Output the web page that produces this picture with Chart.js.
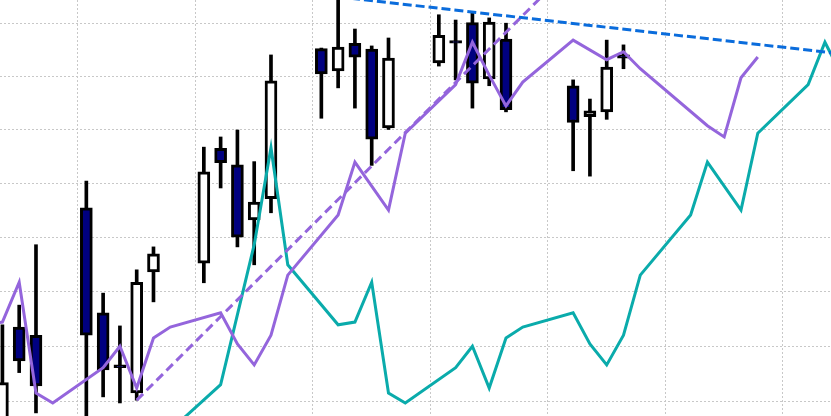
<!DOCTYPE html>
<html>
<head>
<meta charset="utf-8">
<script src="https://cdn.jsdelivr.net/npm/chart.js@4.4.1/dist/chart.umd.min.js"></script>
<style>
    html, body { margin: 0; padding: 0; background: #fff; }
    canvas { display: block; }
</style>
</head>
<body>
<canvas id="candles" width="831" height="416"></canvas>
<script>
// candles: day number (0 = first full candle), open / high / low / close
let days   = [-1, 0, 1, 4, 5, 6, 7, 8, 11, 12, 13, 14, 15, 18, 19, 20, 21, 22, 25, 26, 27, 28, 29, 33, 34, 35, 36]
let opens  = [149.48, 151.35, 151.20, 153.54, 151.61, 150.66, 150.15, 152.36, 152.52, 154.65, 154.34, 153.32, 153.71, 156.52, 156.10, 156.62, 156.51, 155.03, 156.25, 156.67, 157.01, 155.95, 156.70, 155.82, 155.24, 155.33, 156.40]
let highs  = [151.39, 151.75, 152.86, 154.04, 151.97, 151.37, 152.40, 152.82, 154.67, 154.86, 154.99, 154.40, 156.40, 156.53, 157.50, 156.89, 156.57, 156.72, 157.16, 157.06, 157.20, 157.10, 157.00, 155.93, 155.57, 156.68, 156.59]
let lows   = [149.30, 150.52, 149.79, 149.60, 150.08, 149.97, 150.02, 151.81, 152.16, 153.91, 152.82, 152.49, 153.45, 155.21, 155.78, 155.40, 154.33, 155.00, 156.19, 155.93, 155.40, 155.82, 155.33, 154.23, 154.13, 155.19, 156.14]
let closes = [150.34, 150.73, 150.28, 151.20, 150.57, 150.61, 152.17, 152.69, 154.21, 154.38, 153.00, 153.65, 155.91, 156.04, 156.55, 156.36, 154.82, 156.34, 156.77, 156.62, 155.87, 157.02, 155.37, 155.13, 155.35, 156.17, 156.34]

// purple line
let purpleDays   = [-12, -11, -9, -7, -6, -5, -2, -1, 0, 1, 2, 5, 6, 7, 8, 9, 12, 13, 14, 15, 16, 19, 20, 22, 23, 26, 27, 28, 29, 30, 33, 35, 36, 37, 41, 42, 43, 44]
let purpleValues = [149.48, 149.75, 150.30, 152.86, 154.66, 152.49, 151.39, 151.44, 152.17, 150.15, 149.97, 150.61, 151.00, 150.24, 151.15, 151.35, 151.61, 151.04, 150.66, 151.20, 152.30, 153.41, 154.39, 153.50, 154.93, 155.84, 156.64, 156.02, 155.44, 155.89, 156.68, 156.31, 156.46, 156.14, 155.07, 154.86, 155.97, 156.36]

// teal line
let tealDays   = [9, 10, 12, 14, 15, 16, 19, 20, 21, 22, 23, 26, 27, 28, 29, 30, 33, 34, 35, 36, 37, 40, 41, 43, 44, 47, 48, 49, 50]
let tealValues = [149.48, 149.75, 150.30, 152.86, 154.66, 152.49, 151.39, 151.44, 152.17, 150.15, 149.97, 150.61, 151.00, 150.24, 151.15, 151.35, 151.61, 151.04, 150.66, 151.20, 152.30, 153.41, 154.39, 153.50, 154.93, 155.84, 156.64, 156.02, 155.44]

// trend lines (dashed)
let supportDays   = [7, 33]
let supportValues = [150.02, 158.10]
let resistDays    = [19, 49]
let resistValues  = [157.50, 156.42]

// grid positions
let weekLines  = [3.5, 10.5, 17.5, 24.5, 31.5, 38.5, 45.5]
let priceLines = [150, 151, 152, 153, 154, 155, 156, 157]

let navy = "#000080"
let purple = "#9465dc"
let teal = "#0aabab"
let blue = "#0a6cdc"

function points(xs, ys) {
    let out = []
    for (let i = 0; i < xs.length; i++) {
        out.push({ x: xs[i], y: ys[i] })
    }
    return out
}

let wicks = []
let bodies = []
let bodyColors = []
for (let i = 0; i < days.length; i++) {
    wicks.push({ x: days[i], y: [lows[i], highs[i]] })
    bodies.push({ x: days[i], y: [Math.min(opens[i], closes[i]), Math.max(opens[i], closes[i])] })
    bodyColors.push(closes[i] < opens[i] ? navy : "#ffffff")
}

new Chart(document.getElementById("candles"), {
    type: "bar",
    data: {
        datasets: [
            {
                type: "line",
                data: points(resistDays, resistValues),
                borderColor: blue,
                borderWidth: 3,
                borderDash: [9, 4],
                pointRadius: 0,
                order: 0
            },
            {
                type: "line",
                data: points(supportDays, supportValues),
                borderColor: purple,
                borderWidth: 3,
                borderDash: [9, 5],
                pointRadius: 0,
                order: 1
            },
            {
                type: "line",
                data: points(purpleDays, purpleValues),
                borderColor: purple,
                borderWidth: 3,
                pointRadius: 0,
                tension: 0,
                order: 2
            },
            {
                type: "line",
                data: points(tealDays, tealValues),
                borderColor: teal,
                borderWidth: 3,
                pointRadius: 0,
                tension: 0,
                order: 3
            },
            {
                data: bodies,
                backgroundColor: bodyColors,
                borderColor: "#000000",
                borderWidth: 3,
                borderSkipped: false,
                barThickness: 12,
                grouped: false,
                order: 4
            },
            {
                data: wicks,
                backgroundColor: "#000000",
                borderWidth: 0,
                barThickness: 3,
                grouped: false,
                order: 5
            }
        ]
    },
    options: {
        responsive: false,
        animation: false,
        events: [],
        layout: { padding: 0 },
        plugins: {
            legend: { display: false },
            tooltip: { enabled: false }
        },
        scales: {
            x: {
                type: "linear",
                min: -1.1438,
                max: 48.362,
                offset: false,
                bounds: "data",
                afterBuildTicks: function (scale) {
                    scale.ticks = weekLines.map(v => ({ value: v }))
                },
                ticks: { display: false },
                grid: { color: "#c8c8c8", lineWidth: 1, drawTicks: false, offset: false },
                border: { display: false, dash: [2, 2] }
            },
            y: {
                type: "logarithmic",
                min: 149.734,
                max: 157.44,
                bounds: "data",
                beginAtZero: false,
                afterBuildTicks: function (scale) {
                    scale.ticks = priceLines.map(v => ({ value: v }))
                },
                ticks: { display: false },
                grid: { color: "#c8c8c8", lineWidth: 1, drawTicks: false },
                border: { display: false, dash: [2, 2] }
            }
        }
    }
})
</script>
</body>
</html>
